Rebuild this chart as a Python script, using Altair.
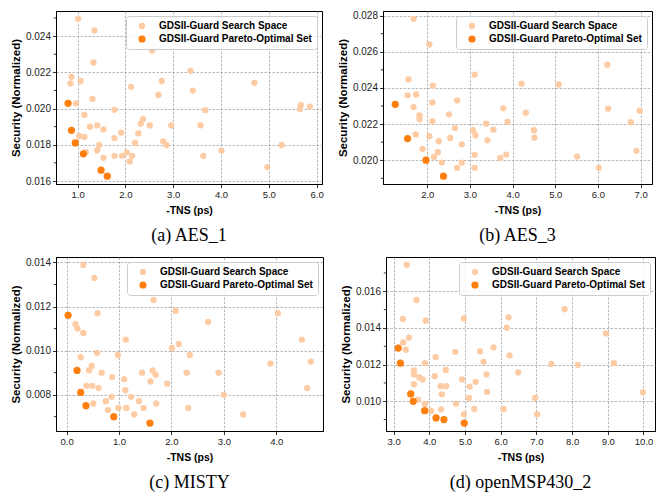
import altair as alt
import pandas as pd

SPACE = "GDSII-Guard Search Space"
PARETO = "GDSII-Guard Pareto-Optimal Set"
LIGHT = "#FDCCA5"
DARK = "#FF7F0E"

# (a) AES_1
a_space_x = [1.01, 1.35, 2.89, 2.56, 1.33, 0.87, 0.85, 1.06, 2.12, 3.36, 2.76, 3.41, 2.69, 4.70,
             1.31, 0.96, 1.77, 1.14, 3.67, 5.67, 5.65, 5.86, 2.37, 2.32, 2.51, 2.96, 3.57, 1.26,
             1.41, 1.54, 1.91, 2.27, 1.03, 1.14, 1.77, 2.20, 2.79, 2.86, 1.45, 1.41, 1.17, 2.03,
             1.93, 1.77, 2.14, 2.09, 1.54, 3.63, 4.01, 5.27, 4.97]
a_space_y = [0.02495, 0.02431, 0.0244, 0.0232, 0.02254, 0.02175, 0.02139, 0.02152, 0.0212, 0.02208,
             0.02152, 0.02099, 0.02075, 0.02142, 0.02053, 0.02029, 0.01993, 0.01965, 0.01991, 0.0202,
             0.01998, 0.02011, 0.01942, 0.01916, 0.01907, 0.01907, 0.01907, 0.019, 0.01907, 0.01885,
             0.01867, 0.01863, 0.01847, 0.01843, 0.01837, 0.0181, 0.01819, 0.01799, 0.01799, 0.0177,
             0.01759, 0.01757, 0.01739, 0.01739, 0.01739, 0.01708, 0.01728, 0.01739, 0.01768, 0.01799,
             0.01677]
a_pareto_x = [0.80, 0.87, 0.95, 1.12, 1.49, 1.62]
a_pareto_y = [0.02029, 0.0188, 0.0181, 0.0175, 0.0166, 0.01627]

# (b) AES_3
b_space_x = [1.68, 2.05, 3.49, 6.22, 3.11, 1.56, 4.21, 5.08, 2.13, 1.54, 1.74, 2.12, 1.68, 2.70,
             3.78, 6.24, 6.98, 4.31, 1.82, 1.82, 2.51, 2.12, 3.38, 6.77, 3.88, 2.65, 1.73, 3.07,
             3.55, 4.50, 3.13, 2.05, 2.54, 4.51, 3.41, 2.27, 2.81, 1.89, 2.25, 2.16, 3.11, 3.85,
             3.71, 5.51, 6.90, 2.34, 2.81, 2.70, 3.11, 6.02]
b_space_y = [0.02782, 0.0264, 0.02649, 0.02528, 0.02474, 0.02447, 0.02423, 0.02419, 0.02412, 0.02359,
             0.02364, 0.0232, 0.02294, 0.02331, 0.02287, 0.02285, 0.02274, 0.02263, 0.02248, 0.02226,
             0.02254, 0.02215, 0.02202, 0.0221, 0.02212, 0.02178, 0.02143, 0.02166, 0.02169, 0.02166,
             0.02138, 0.02133, 0.02123, 0.02125, 0.0211, 0.02105, 0.02088, 0.02063, 0.02044, 0.02018,
             0.0203, 0.02031, 0.02013, 0.0202, 0.02052, 0.01987, 0.01987, 0.01958, 0.01958, 0.01958]
b_pareto_x = [1.25, 1.54, 1.97, 2.38]
b_pareto_y = [0.02309, 0.0212, 0.0200, 0.01912]

# (c) MISTY
c_space_x = [0.32, 0.53, 1.98, 1.66, 2.08, 0.59, 4.03, 2.70, 0.17, 0.21, 0.32, 1.13, 4.49, 2.01,
             2.14, 2.35, 0.58, 0.98, 0.27, 3.89, 4.66, 0.48, 0.43, 0.67, 1.64, 1.44, 1.70, 2.29,
             2.90, 0.87, 1.60, 1.10, 1.92, 0.38, 0.49, 0.61, 4.59, 1.12, 3.00, 1.23, 0.86, 0.75,
             1.38, 0.51, 1.71, 0.99, 1.14, 1.47, 2.32, 0.79, 1.29, 3.37]
c_space_y = [0.01389, 0.0133, 0.01341, 0.0123, 0.0118, 0.0117, 0.0117, 0.0113, 0.0112, 0.0110,
             0.0108, 0.0105, 0.0105, 0.01012, 0.0103, 0.0098, 0.0099, 0.0098, 0.0097, 0.00941,
             0.0095, 0.0093, 0.0091, 0.0090, 0.0091, 0.0090, 0.0089, 0.0090, 0.0090, 0.0088,
             0.0086, 0.0087, 0.0085, 0.0084, 0.0084, 0.0083, 0.0083, 0.0082, 0.0080, 0.0079,
             0.0079, 0.0077, 0.0077, 0.0076, 0.0076, 0.0074, 0.0074, 0.0074, 0.0074, 0.0073,
             0.0071, 0.0071]
c_pareto_x = [0.03, 0.20, 0.27, 0.37, 0.90, 1.59]
c_pareto_y = [0.0116, 0.0091, 0.0081, 0.0075, 0.0070, 0.00671]

# (d) openMSP430_2
d_space_x = [3.37, 3.64, 7.79, 3.26, 3.90, 4.97, 6.22, 6.17, 8.95, 3.43, 3.27, 3.34, 5.80, 4.73,
             5.42, 6.25, 4.18, 5.52, 3.88, 7.42, 8.16, 9.17, 3.57, 4.46, 3.57, 6.49, 5.60, 4.15,
             3.72, 3.81, 4.92, 5.30, 5.13, 3.57, 4.32, 4.47, 5.62, 9.98, 4.35, 5.11, 6.97, 3.69,
             3.88, 4.75, 4.05, 4.33, 5.26, 6.08, 4.97, 7.02]
d_space_y = [0.01744, 0.01553, 0.01502, 0.01449, 0.0144, 0.01452, 0.01458, 0.01401, 0.0137, 0.01347,
             0.01321, 0.01281, 0.01294, 0.0127, 0.01272, 0.0125, 0.01241, 0.01215, 0.01208, 0.01204,
             0.01199, 0.01208, 0.01168, 0.01171, 0.01146, 0.01157, 0.01146, 0.01137, 0.0113, 0.01119,
             0.01119, 0.01106, 0.0108, 0.01093, 0.01082, 0.01082, 0.01051, 0.01049, 0.01038, 0.01018,
             0.01018, 0.01009, 0.00985, 0.00987, 0.00947, 0.00956, 0.00958, 0.00958, 0.00929, 0.00929]
d_pareto_x = [3.13, 3.19, 3.48, 3.55, 3.87, 4.19, 4.41, 4.98]
d_pareto_y = [0.0129, 0.01208, 0.0104, 0.0100, 0.00949, 0.00909, 0.0090, 0.00881]

# axis ticks
a_xticks = [1, 2, 3, 4, 5, 6]
a_yticks = [0.016, 0.018, 0.020, 0.022, 0.024]
b_xticks = [2, 3, 4, 5, 6, 7]
b_yticks = [0.020, 0.022, 0.024, 0.026, 0.028]
c_xticks = [0, 1, 2, 3, 4]
c_yticks = [0.008, 0.010, 0.012, 0.014]
d_xticks = [3, 4, 5, 6, 7, 8, 9, 10]
d_yticks = [0.010, 0.012, 0.014, 0.016]

YTITLE = "Security (Normalized)"


def pad_domain(vals):
    lo, hi = min(vals), max(vals)
    r = hi - lo
    return [lo - 0.05 * r, hi + 0.05 * r]


def panel(sx, sy, px, py, xticks, yticks, caption, w, h):
    df = pd.DataFrame({
        "x": sx + px,
        "y": sy + py,
        "set": [SPACE] * len(sx) + [PARETO] * len(px),
    })
    xdom = pad_domain(sx + px)
    ydom = pad_domain(sy + py)
    step = yticks[1] - yticks[0]
    minor = []
    v = yticks[0] - step / 2
    while v <= ydom[1]:
        if v >= ydom[0]:
            minor.append(round(v, 6))
        v += step
    xscale = alt.Scale(domain=xdom, nice=False, zero=False)
    yscale = alt.Scale(domain=ydom, nice=False, zero=False)
    yaxis = alt.Axis(values=yticks, format=".3f", title=YTITLE)
    pts = alt.Chart(df).mark_circle(opacity=1, strokeWidth=0).encode(
        x=alt.X("x:Q", scale=xscale,
                axis=alt.Axis(values=xticks, format=".1f", title="-TNS (ps)")),
        y=alt.Y("y:Q", scale=yscale, axis=yaxis),
        color=alt.Color("set:N",
                        scale=alt.Scale(domain=[SPACE, PARETO], range=[LIGHT, DARK]),
                        legend=alt.Legend(title=None, orient="top-right")),
        size=alt.Size("set:N",
                      scale=alt.Scale(domain=[SPACE, PARETO], range=[40, 52]),
                      legend=None),
    )
    mt = alt.Chart(pd.DataFrame({"y": minor})).mark_rule(color="black", strokeWidth=0.8).encode(
        y=alt.Y("y:Q", scale=yscale, axis=yaxis),
        x=alt.value(0),
        x2=alt.value(-2.2),
    )
    return alt.layer(pts, mt).properties(
        width=w, height=h,
        title=alt.TitleParams(caption, orient="bottom", anchor="middle", offset=11,
                              font="Liberation Serif", fontSize=18, fontWeight="normal",
                              color="black"),
    )


pa = panel(a_space_x, a_space_y, a_pareto_x, a_pareto_y, a_xticks, a_yticks, "(a) AES_1", 266, 173)
pb = panel(b_space_x, b_space_y, b_pareto_x, b_pareto_y, b_xticks, b_yticks, "(b) AES_3", 269, 173)
pc = panel(c_space_x, c_space_y, c_pareto_x, c_pareto_y, c_xticks, c_yticks, "(c) MISTY", 267, 174)
pd_ = panel(d_space_x, d_space_y, d_pareto_x, d_pareto_y, d_xticks, d_yticks, "(d) openMSP430_2", 269, 174)

row1 = alt.hconcat(pa, pb, spacing=13).resolve_scale(color="independent", size="independent", x="independent", y="independent").resolve_legend(color="independent")
row2 = alt.hconcat(pc, pd_, spacing=16).resolve_scale(color="independent", size="independent", x="independent", y="independent").resolve_legend(color="independent")

chart = alt.vconcat(row1, row2, spacing=11).properties(
    padding={"left": 2, "top": 2, "right": 0, "bottom": 0},
).configure_view(
    stroke="black", strokeWidth=1,
).configure_axis(
    labelFont="Liberation Sans", labelColor="#222222", labelFontSize=10,
    titleFont="Liberation Sans", titleFontWeight="bold", titleColor="black",
    tickColor="black", tickSize=3.5, tickWidth=0.8, domainColor="black", domainWidth=1,
    gridColor="#9a9a9a", gridDash=[2.5, 1.5], gridWidth=0.7, labelPadding=2,
).configure_axisX(
    titleFontSize=10.5, titlePadding=6, labelFontSize=9.5,
).configure_axisY(
    titleFontSize=11.5, titlePadding=3.5,
).configure_legend(
    orient="top-right", offset=5, padding=5,
    fillColor="rgba(255,255,255,0.8)", strokeColor="#cccccc", cornerRadius=3,
    labelFont="Liberation Sans", labelFontWeight="bold", labelFontSize=10, labelColor="black",
    labelLimit=300, symbolType="circle", symbolSize=50, symbolStrokeWidth=0,
    symbolOffset=6, labelOffset=12, rowPadding=3, symbolOpacity=1,
)

chart.save("out.html", embed_options={"renderer": "svg", "actions": False})
